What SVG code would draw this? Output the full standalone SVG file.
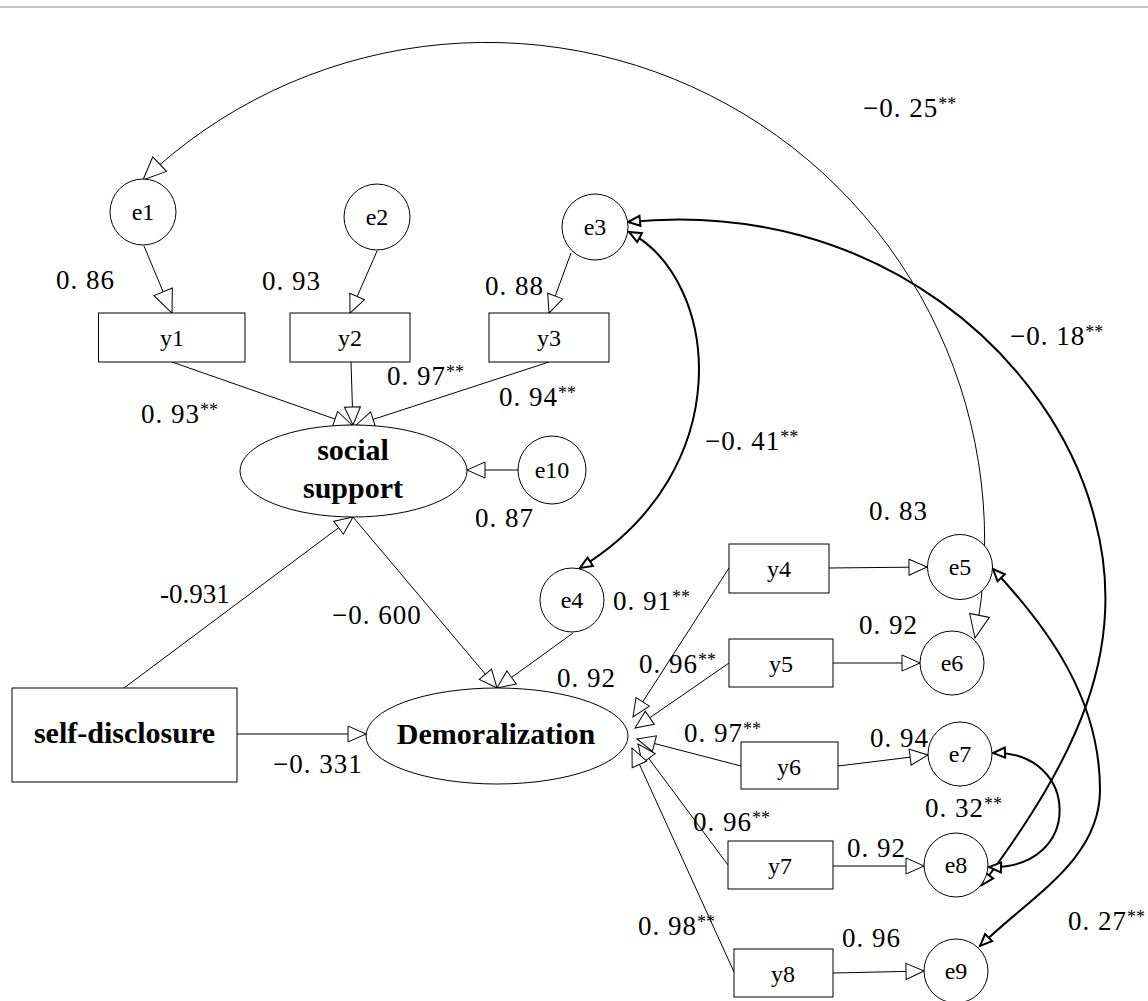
<svg xmlns="http://www.w3.org/2000/svg" width="1148" height="1001" viewBox="0 0 1148 1001">
<style>
.shape{fill:#fff;stroke:#000;stroke-width:1}
.c{fill:none;stroke:#000;stroke-width:1}
.ck{fill:none;stroke:#000;stroke-width:2}
.lbl{font-family:"Liberation Serif",serif;font-size:27px;letter-spacing:1px;fill:#000}
.st{font-size:18px;letter-spacing:0}
.nt{font-family:"Liberation Serif",serif;font-size:24px;text-anchor:middle;fill:#000}
.bt{font-family:"Liberation Serif",serif;font-size:30px;font-weight:bold;text-anchor:middle;fill:#000}
</style>
<defs>
<marker id="ah" markerUnits="userSpaceOnUse" markerWidth="20" markerHeight="18" refX="18" refY="8" orient="auto" overflow="visible"><path d="M0,0 L18,8 L0,16 Z" fill="#fff" stroke="#000" stroke-width="1"/></marker>
<marker id="ahL" markerUnits="userSpaceOnUse" markerWidth="24" markerHeight="22" refX="23" refY="10" orient="auto" overflow="visible"><path d="M0,0 L23,10 L0,20 Z" fill="#fff" stroke="#000" stroke-width="1"/></marker>
<marker id="ahLs" markerUnits="userSpaceOnUse" markerWidth="24" markerHeight="22" refX="23" refY="10" orient="auto-start-reverse" overflow="visible"><path d="M0,0 L23,10 L0,20 Z" fill="#fff" stroke="#000" stroke-width="1"/></marker>
<marker id="ahk" markerUnits="userSpaceOnUse" markerWidth="14" markerHeight="12" refX="12" refY="5" orient="auto-start-reverse" overflow="visible"><path d="M0,0 L12,5 L0,10 Z" fill="#fff" stroke="#000" stroke-width="2" stroke-linejoin="miter"/></marker>
</defs>
<rect x="0" y="0" width="1148" height="1001" fill="#fff"/>
<line x1="0" y1="7" x2="1148" y2="7" stroke="#c4c4c4" stroke-width="2"/>

<g id="connectors">
<path class="c" d="M143 180 A498 498 0 0 1 975 638" marker-start="url(#ahLs)" marker-end="url(#ahL)"/>
<path class="ck" d="M629 232 C720 280 740 470 580 568" marker-start="url(#ahk)" marker-end="url(#ahk)"/>
<path class="ck" d="M628 222 C878 197 1055 360 1095 520 C1130 650 1075 760 982 885" marker-start="url(#ahk)" marker-end="url(#ahk)"/>
<path class="ck" d="M993 569 C1050 630 1100 700 1100 790 C1100 860 1030 897 980 946" marker-start="url(#ahk)" marker-end="url(#ahk)"/>
<path class="ck" d="M993 753 C1080 750 1085 870 989 867" marker-start="url(#ahk)" marker-end="url(#ahk)"/>
<line class="c" x1="144" y1="246" x2="172" y2="313" marker-end="url(#ahL)"/>
<line class="c" x1="377" y1="251" x2="350" y2="313" marker-end="url(#ah)"/>
<line class="c" x1="571" y1="253" x2="549" y2="313" marker-end="url(#ah)"/>
<line class="c" x1="172" y1="362" x2="352" y2="425" marker-end="url(#ah)"/>
<line class="c" x1="351" y1="362" x2="353" y2="425" marker-end="url(#ah)"/>
<line class="c" x1="549" y1="362" x2="356" y2="425" marker-end="url(#ah)"/>
<line class="c" x1="518" y1="470" x2="467" y2="470" marker-end="url(#ah)"/>
<line class="c" x1="124" y1="688" x2="353" y2="517" marker-end="url(#ah)"/>
<line class="c" x1="353" y1="517" x2="497" y2="688" marker-end="url(#ah)"/>
<line class="c" x1="573" y1="633" x2="497" y2="688" marker-end="url(#ah)"/>
<line class="c" x1="237" y1="734" x2="366" y2="734" marker-end="url(#ah)"/>
<line class="c" x1="729" y1="568" x2="633" y2="717" marker-end="url(#ah)"/>
<line class="c" x1="729" y1="663" x2="635" y2="728" marker-end="url(#ah)"/>
<line class="c" x1="741" y1="766" x2="637" y2="739" marker-end="url(#ah)"/>
<line class="c" x1="728" y1="865" x2="638" y2="744" marker-end="url(#ah)"/>
<line class="c" x1="734" y1="972" x2="632" y2="748" marker-end="url(#ah)"/>
<line class="c" x1="829" y1="568" x2="927" y2="567" marker-end="url(#ah)"/>
<line class="c" x1="833" y1="663" x2="920" y2="663" marker-end="url(#ah)"/>
<line class="c" x1="838" y1="766" x2="928" y2="755" marker-end="url(#ah)"/>
<line class="c" x1="833" y1="866" x2="924" y2="866" marker-end="url(#ah)"/>
<line class="c" x1="833" y1="973" x2="924" y2="971" marker-end="url(#ah)"/>
</g>

<g id="e1"><circle class="shape" cx="143" cy="212" r="33"/><text class="nt" x="143" y="220">e1</text></g>
<g id="e2"><circle class="shape" cx="377" cy="217" r="33"/><text class="nt" x="377" y="225">e2</text></g>
<g id="e3"><circle class="shape" cx="595" cy="227" r="33"/><text class="nt" x="595" y="235">e3</text></g>
<g id="y1"><rect class="shape" x="98.5" y="313" width="146.5" height="49"/><text class="nt" x="172" y="346">y1</text></g>
<g id="y2"><rect class="shape" x="290" y="313" width="120" height="49"/><text class="nt" x="350" y="346">y2</text></g>
<g id="y3"><rect class="shape" x="489" y="313" width="120" height="49"/><text class="nt" x="549" y="346">y3</text></g>
<g id="social-support"><ellipse class="shape" cx="353.5" cy="471" rx="113.5" ry="46"/><text class="bt" x="353" y="460">social</text><text class="bt" x="353" y="498">support</text></g>
<g id="e10"><circle class="shape" cx="552" cy="470" r="34"/><text class="nt" x="552" y="478">e10</text></g>
<g id="e4"><circle class="shape" cx="572" cy="600" r="32"/><text class="nt" x="572" y="608">e4</text></g>
<g id="self-disclosure"><rect class="shape" x="12" y="688" width="225" height="94"/><text class="bt" x="124.5" y="743">self-disclosure</text></g>
<g id="demoralization"><ellipse class="shape" cx="497" cy="736" rx="131" ry="48"/><text class="bt" x="496" y="744">Demoralization</text></g>
<g id="y4"><rect class="shape" x="729" y="544" width="100" height="49"/><text class="nt" x="779" y="577">y4</text></g>
<g id="y5"><rect class="shape" x="729" y="639" width="104" height="48"/><text class="nt" x="781" y="672">y5</text></g>
<g id="y6"><rect class="shape" x="741" y="742" width="97" height="47"/><text class="nt" x="789" y="775">y6</text></g>
<g id="y7"><rect class="shape" x="728" y="841" width="105" height="48"/><text class="nt" x="780" y="874">y7</text></g>
<g id="y8"><rect class="shape" x="734" y="949" width="99" height="48"/><text class="nt" x="783" y="982">y8</text></g>
<g id="e5"><circle class="shape" cx="960" cy="567" r="32.5"/><text class="nt" x="960" y="575">e5</text></g>
<g id="e6"><circle class="shape" cx="952" cy="663" r="32"/><text class="nt" x="952" y="671">e6</text></g>
<g id="e7"><circle class="shape" cx="960" cy="754" r="32"/><text class="nt" x="960" y="762">e7</text></g>
<g id="e8"><circle class="shape" cx="956" cy="865" r="32"/><text class="nt" x="956" y="873">e8</text></g>
<g id="e9"><circle class="shape" cx="956" cy="971" r="32"/><text class="nt" x="956" y="979">e9</text></g>

<g id="labels">
<text class="lbl" x="863" y="117">−0. 25<tspan class="st" dy="-7">**</tspan></text>
<text class="lbl" x="1010" y="345">−0. 18<tspan class="st" dy="-7">**</tspan></text>
<text class="lbl" x="56" y="289">0. 86</text>
<text class="lbl" x="262" y="290">0. 93</text>
<text class="lbl" x="485" y="295">0. 88</text>
<text class="lbl" x="387" y="385">0. 97<tspan class="st" dy="-7">**</tspan></text>
<text class="lbl" x="141" y="423">0. 93<tspan class="st" dy="-7">**</tspan></text>
<text class="lbl" x="499" y="406">0. 94<tspan class="st" dy="-7">**</tspan></text>
<text class="lbl" x="705" y="450">−0. 41<tspan class="st" dy="-7">**</tspan></text>
<text class="lbl" x="475" y="527">0. 87</text>
<text class="lbl" x="869" y="520">0. 83</text>
<text class="lbl" x="613" y="610">0. 91<tspan class="st" dy="-7">**</tspan></text>
<text class="lbl" x="160" y="603" style="letter-spacing:0">-0.931</text>
<text class="lbl" x="332" y="624">−0. 600</text>
<text class="lbl" x="557" y="687">0. 92</text>
<text class="lbl" x="859" y="634">0. 92</text>
<text class="lbl" x="639" y="673">0. 96<tspan class="st" dy="-7">**</tspan></text>
<text class="lbl" x="684" y="742">0. 97<tspan class="st" dy="-7">**</tspan></text>
<text class="lbl" x="870" y="747">0. 94</text>
<text class="lbl" x="273" y="773">−0. 331</text>
<text class="lbl" x="925" y="817">0. 32<tspan class="st" dy="-7">**</tspan></text>
<text class="lbl" x="693" y="831">0. 96<tspan class="st" dy="-7">**</tspan></text>
<text class="lbl" x="847" y="857">0. 92</text>
<text class="lbl" x="638" y="935">0. 98<tspan class="st" dy="-7">**</tspan></text>
<text class="lbl" x="842" y="947">0. 96</text>
<text class="lbl" x="1068" y="930">0. 27<tspan class="st" dy="-7">**</tspan></text>
</g>
</svg>
